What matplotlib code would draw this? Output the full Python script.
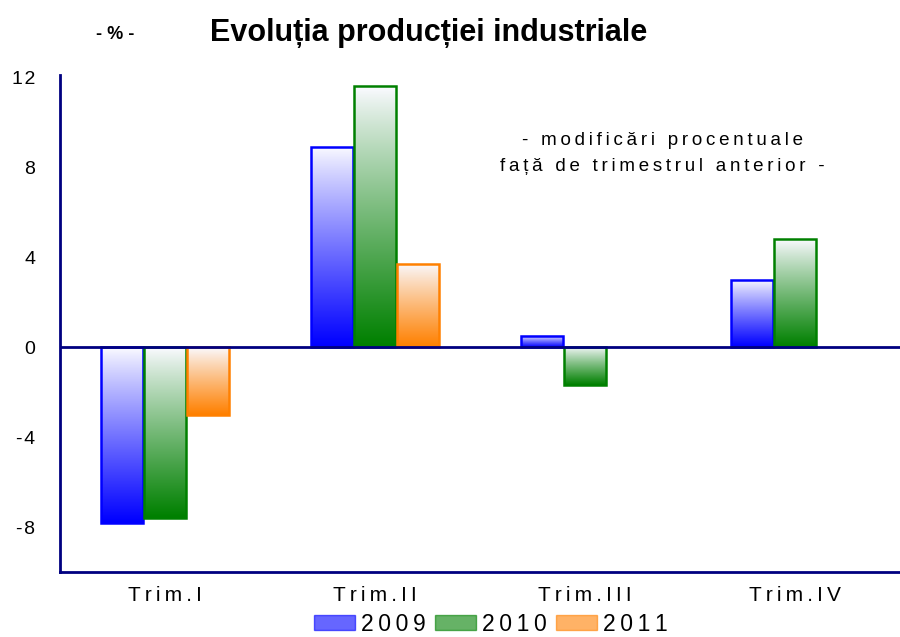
import numpy as np
import matplotlib
matplotlib.use("Agg")
import matplotlib.pyplot as plt
from matplotlib.colors import to_rgb
from matplotlib.patches import Rectangle

quarters = ["Trim.I", "Trim.II", "Trim.III", "Trim.IV"]
years = ["2009", "2010", "2011"]
v2009 = [-7.8, 8.9, 0.5, 3.0]
v2010 = [-7.6, 11.6, -1.7, 4.8]
v2011 = [-3.0, 3.7, None, None]
colors = ["#0000FF", "#008000", "#FF8000"]
yticks = [-8, -4, 0, 4, 8, 12]

plt.rcParams["font.family"] = ["Liberation Sans", "DejaVu Sans"]

THIN = "\u2009"
HAIR = "\u200a"


def spaced(s, sep=THIN):
    # the original uses wide letter spacing
    return "\n".join(sep.join(line) for line in s.split("\n"))


def gradient_bar(ax, x, width, value, color):
    # near white at the top edge, full colour at the bottom edge
    top = max(value, 0)
    bottom = min(value, 0)
    c = np.array(to_rgb(color))
    t = np.linspace(0, 1, 64)[:, None] ** 0.9
    img = (1 - t) * np.array([0.98, 0.98, 1.0]) + t * c
    img = img[:, None, :]
    ax.imshow(img, extent=(x - width / 2, x + width / 2, bottom, top),
              aspect="auto", origin="upper", zorder=2, interpolation="bilinear")
    ax.add_patch(Rectangle((x - width / 2, bottom), width, top - bottom,
                           fill=False, edgecolor=color, lw=1.8, zorder=3))


fig = plt.figure(figsize=(9, 6.37), dpi=100)
ax = fig.add_axes([0.0667, 0.102, 0.933, 0.78])

width = 0.2
offsets = [-0.205, 0.0, 0.205]
for series, off, col in zip([v2009, v2010, v2011], offsets, colors):
    for i, v in enumerate(series):
        if v is None:
            continue
        gradient_bar(ax, i + off, width, v, col)

ax.axhline(0, color="#000080", lw=2, zorder=4)
ax.set_xlim(-0.5, 3.5)
ax.set_ylim(-10, 12.1)
ax.set_xticks(range(len(quarters)))
ax.set_xticklabels([spaced(q) for q in quarters], fontsize=15)
ax.set_yticks(yticks)
ax.set_yticklabels([spaced(str(t), HAIR) for t in yticks], fontsize=14)
ax.tick_params(length=0)
ax.tick_params(axis="y", pad=18)
ax.tick_params(axis="x", pad=10)
for s in ["top", "right"]:
    ax.spines[s].set_visible(False)
for s in ["left", "bottom"]:
    ax.spines[s].set_color("#000080")
    ax.spines[s].set_linewidth(2)

ax.text(0.717, 0.842, spaced("- modificări procentuale\nfață de trimestrul anterior -"),
        transform=ax.transAxes, ha="center", va="center", fontsize=13.5,
        linespacing=1.65)

fig.text(0.476, 0.948, "Evoluția producției industriale", ha="center",
         va="center", fontsize=22, fontweight="bold")
fig.text(0.128, 0.946, "- % -", ha="center", va="center", fontsize=13,
         fontweight="bold")

handles = [Rectangle((0, 0), 1, 1, facecolor=to_rgb(c), edgecolor=c, alpha=0.6)
           for c in colors]
fig.legend(handles, [spaced(y) for y in years], loc="center",
           bbox_to_anchor=(0.545, 0.02), ncol=3, frameon=False, fontsize=16.5,
           handlelength=1.8, handleheight=0.6, handletextpad=0.25,
           columnspacing=0.4, borderaxespad=0, borderpad=0)

fig.savefig("out.png", dpi=100)
